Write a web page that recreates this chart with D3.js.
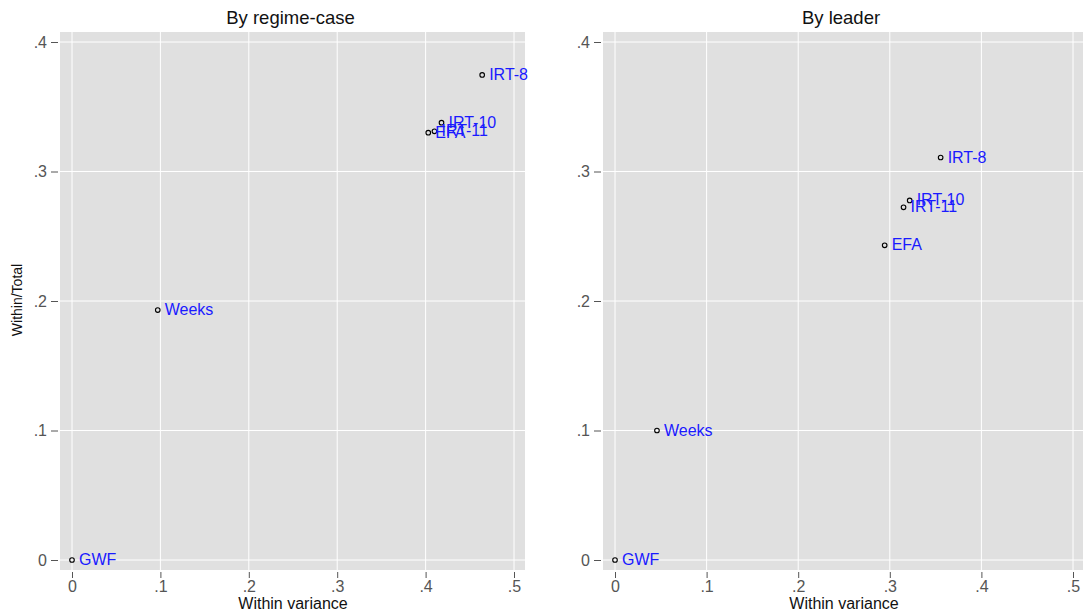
<!DOCTYPE html>
<html>
<head>
<meta charset="utf-8">
<script src="https://cdn.jsdelivr.net/npm/d3@7"></script>
<style>
  body { margin: 0; background: #fff; }
  text { font-family: "Liberation Sans", Arial, sans-serif; }
</style>
</head>
<body>
<svg id="chart" width="1083" height="615"></svg>
<script>
// data
const labels = ["GWF", "Weeks", "IRT-8", "IRT-10", "EFA", "IRT-11"];
const regimeX = [0, 0.097, 0.464, 0.418, 0.403, 0.410];
const regimeY = [0, 0.193, 0.3746, 0.3377, 0.330, 0.331];
const leaderX = [0, 0.0458, 0.3555, 0.3217, 0.2944, 0.315];
const leaderY = [0, 0.100, 0.3108, 0.2777, 0.243, 0.2723];
const xTicks = [0, 0.1, 0.2, 0.3, 0.4, 0.5];
const yTicks = [0, 0.1, 0.2, 0.3, 0.4];
const tickFmt = d => d === 0 ? "0" : d3.format(".1f")(d).replace(/^0/, "");

const svg = d3.select("#chart");

function panel(opts) {
  const { title, xs, ys, x0, x1, gx0, gx1, showYTitle } = opts;
  const x = d3.scaleLinear().domain([0, 0.5]).range([x0, x1]);
  const y = d3.scaleLinear().domain([0, 0.4]).range([560, 42]);
  const g = svg.append("g");

  g.append("rect")
    .attr("x", gx0).attr("y", 32)
    .attr("width", gx1 - gx0).attr("height", 570 - 32)
    .attr("fill", "#e0e0e0");

  // grid
  g.selectAll(".gx").data(xTicks).join("line")
    .attr("x1", d => x(d)).attr("x2", d => x(d))
    .attr("y1", 32).attr("y2", 570)
    .attr("stroke", "#fff").attr("stroke-width", 1);
  g.selectAll(".gy").data(yTicks).join("line")
    .attr("y1", d => y(d)).attr("y2", d => y(d))
    .attr("x1", gx0).attr("x2", gx1)
    .attr("stroke", "#fff").attr("stroke-width", 1);

  // axes
  const xa = g.append("g").attr("transform", "translate(0,572)")
    .call(d3.axisBottom(x).tickValues(xTicks).tickFormat(tickFmt).tickSize(6).tickPadding(3));
  const ya = g.append("g").attr("transform", `translate(${gx0 - 2},0)`)
    .call(d3.axisLeft(y).tickValues(yTicks).tickFormat(tickFmt).tickSize(7).tickPadding(4));
  [xa, ya].forEach(a => {
    a.select(".domain").remove();
    a.selectAll("line").attr("stroke", "#555");
    a.selectAll("text").attr("fill", "#555").style("font-size", "16px");
  });

  g.append("text")
    .attr("x", (gx0 + gx1) / 2 - 2).attr("y", 24)
    .attr("text-anchor", "middle").style("font-size", "18.5px").attr("fill", "#111")
    .text(title);
  g.append("text")
    .attr("x", (x0 + x1) / 2).attr("y", 609)
    .attr("text-anchor", "middle").style("font-size", "16px").attr("fill", "#111")
    .text("Within variance");
  if (showYTitle) {
    g.append("text")
      .attr("transform", "translate(22,300) rotate(-90)")
      .attr("text-anchor", "middle").style("font-size", "14px").attr("fill", "#111")
      .text("Within/Total");
  }

  const pts = labels.map((l, i) => ({ l, x: xs[i], y: ys[i] }));
  g.selectAll("circle.pt").data(pts).join("circle")
    .attr("cx", d => x(d.x)).attr("cy", d => y(d.y)).attr("r", 2.3)
    .attr("fill", "none").attr("stroke", "#000").attr("stroke-width", 1.1);
  g.selectAll("text.lb").data(pts).join("text")
    .attr("x", d => x(d.x) + 7).attr("y", d => y(d.y) + 5)
    .attr("fill", "#1a1aff").style("font-size", "16px")
    .text(d => d.l);
}

panel({ title: "By regime-case", xs: regimeX, ys: regimeY, x0: 72, x1: 514, gx0: 60, gx1: 525, showYTitle: true });
panel({ title: "By leader", xs: leaderX, ys: leaderY, x0: 615, x1: 1073, gx0: 603, gx1: 1083, showYTitle: false });
</script>
</body>
</html>
